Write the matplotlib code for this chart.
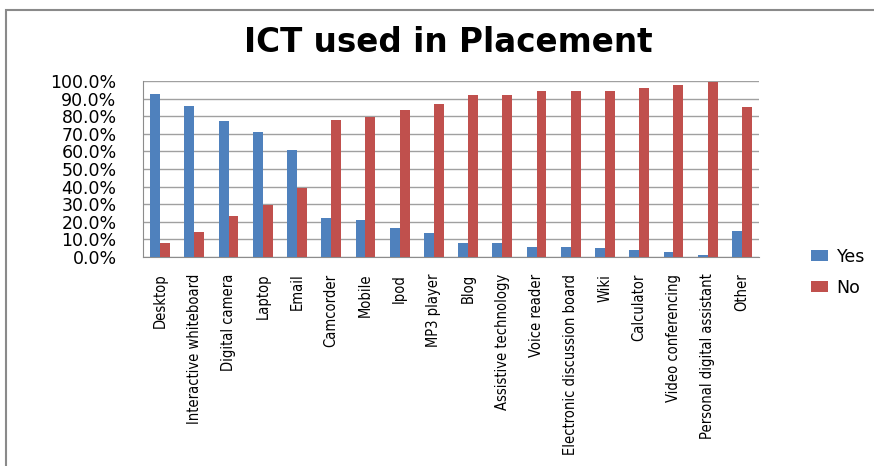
import matplotlib
matplotlib.use("Agg")
import matplotlib.pyplot as plt
from matplotlib.patches import Rectangle
from matplotlib.ticker import PercentFormatter
import numpy as np

categories = ["Desktop", "Interactive whiteboard", "Digital camera", "Laptop", "Email",
              "Camcorder", "Mobile", "Ipod", "MP3 player", "Blog", "Assistive technology",
              "Voice reader", "Electronic discussion board", "Wiki", "Calculator",
              "Video conferencing", "Personal digital assistant", "Other"]
yes_vals = [92.4, 85.8, 77.3, 71.0, 61.0, 22.2, 20.8, 16.7, 13.6, 8.1, 8.1,
            5.9, 5.9, 5.3, 4.0, 2.8, 1.0, 14.8]
no_vals = [7.8, 14.4, 23.1, 29.4, 39.4, 77.6, 79.4, 83.5, 86.7, 92.0, 92.0,
           94.3, 94.3, 94.3, 96.0, 97.5, 99.2, 85.2]

blue = "#4F81BD"
red = "#C0504D"

fig = plt.figure(figsize=(8.74, 4.66), dpi=100)
ax = fig.add_axes([143 / 874, 1 - 257 / 466, (759 - 143) / 874, (257 - 81) / 466])

x = np.arange(len(categories))
w = 0.29
ax.bar(x - w / 2, yes_vals, w, color=blue, label="Yes", zorder=3)
ax.bar(x + w / 2, no_vals, w, color=red, label="No", zorder=3)

ax.set_xlim(-0.5, len(categories) - 0.5)
ax.set_ylim(0, 100)
ax.set_yticks(np.arange(0, 101, 10))
ax.yaxis.set_major_formatter(PercentFormatter(decimals=1))
ax.grid(axis="y", color="#a0a0a0", linewidth=1, zorder=0)

for s in ["top", "right"]:
    ax.spines[s].set_visible(False)
for s in ["left", "bottom"]:
    ax.spines[s].set_color("#8c8c8c")

ax.set_xticks(x)
ax.set_xticklabels(categories, rotation=90, family="DejaVu Sans", fontstretch="condensed",
                   fontsize=10.5)
ax.tick_params(axis="x", length=0, pad=12)
ax.tick_params(axis="y", length=0, pad=19, labelsize=12.5)

fig.text(448 / 874, 1 - 52 / 466, "ICT used in Placement", ha="center", va="baseline",
         fontsize=23.5, fontweight="bold", family="DejaVu Sans")

fig.legend(loc="upper left", bbox_to_anchor=(795 / 874, 1 - 232 / 466), frameon=False,
           fontsize=12.5, handlelength=1.0, handleheight=0.6, labelspacing=0.75,
           handletextpad=0.5)

fig.patches.append(Rectangle((6 / 874, -0.1), 2, 1.1 - 10 / 466, transform=fig.transFigure,
                             fill=False, edgecolor="#8a8a8a", linewidth=1.5))

fig.savefig("out.png", dpi=100)
